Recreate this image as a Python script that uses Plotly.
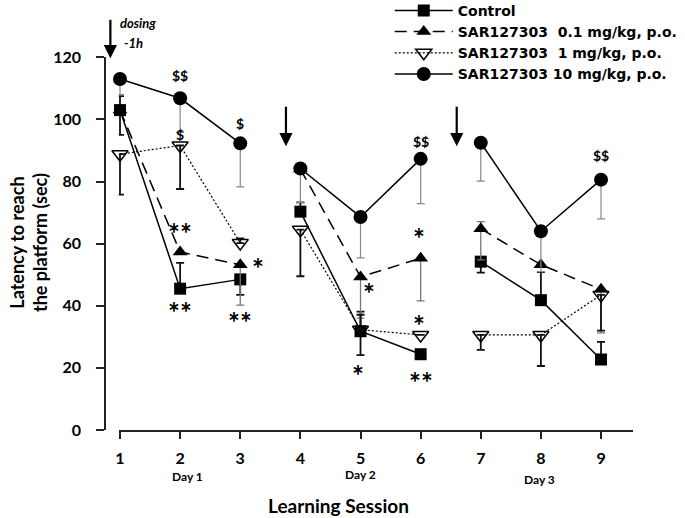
import plotly.graph_objects as go

sessions = [1, 2, 3, 4, 5, 6, 7, 8, 9]
tick_labels = ["1", "2", "3", "4", "5", "6", "7", "8", "9"]
day_slices = [(0, 3), (3, 6), (6, 9)]

series_names = ["Control", "SAR127303  0.1 mg/kg, p.o.", "SAR127303  1 mg/kg, p.o.", "SAR127303 10 mg/kg, p.o."]

control = [103.0, 45.5, 48.5, 70.3, 31.8, 24.4, 54.2, 41.8, 22.7]
control_plus = [4.5, 8.3, 0, 3, 6.3, 0, 0, 9, 5.7]
control_minus = [8, 0, 5, 0, 7.7, 0, 3.5, 0, 0]

dose01 = [103.0, 57.3, 53.2, 84.0, 49.3, 55.3, 64.8, 53.2, 45.3]
dose01_plus = [0, 0, 0, 0, 0, 0, 2.3, 0, 0]
dose01_minus = [0, 0, 13, 0, 13.3, 13.7, 10, 0, 14]

dose1 = [88.8, 91.6, 60.2, 64.5, 32.3, 30.6, 30.6, 30.6, 43.5]
dose1_plus = [0, 0, 1.5, 0, 4.8, 0, 0, 0, 0]
dose1_minus = [13, 14, 0, 15, 0, 0, 4.8, 10, 11.5]

dose10 = [113.0, 106.8, 92.3, 84.2, 68.6, 87.3, 92.5, 64.0, 80.6]
dose10_plus = [0, 0, 0, 0, 0, 0, 0, 0, 0]
dose10_minus = [5, 11, 14, 11, 13.2, 14.4, 12.4, 13, 12.6]

# significance labels (session x, value y, text)
sig_x = [2.0, 3.0, 2.0, 6.0, 9.0, 2.0, 2.0, 3.3, 3.0, 5.14, 4.96, 5.98, 5.98, 6.0]
sig_y = [114.2, 98.7, 95.2, 93.0, 88.5, 65.0, 39.6, 53.7, 36.4, 45.8, 19.3, 63.3, 35.4, 17.0]
sig_text = ["$$", "$", "$", "$$", "$$", "**", "**", "*", "**", "*", "*", "*", "*", "**"]

day_labels = ["Day 1", "Day 2", "Day 3"]
day_x = [2.12, 5.0, 7.98]
day_y = [-15.1, -14.2, -15.8]

# dosing arrows (x, tail y, tip y)
arrow_x = [0.84, 3.76, 6.60]
arrow_tail = [132.6, 104.6, 104.6]
arrow_tip = [119.7, 91.4, 91.4]

FONT = "Lato"
W, H = 685, 518
XDOM = [118.8 / W, 632.9 / W]
YDOM = [1 - 430 / H, 1 - 57.3 / H]
XR = [0.98, 9.53]
YR = [0, 120]
PX_PER_Y = (YDOM[1] - YDOM[0]) * H / (YR[1] - YR[0])


def px(x):
    return XDOM[0] + (x - XR[0]) / (XR[1] - XR[0]) * (XDOM[1] - XDOM[0])


def py(y):
    return YDOM[0] + (y - YR[0]) / (YR[1] - YR[0]) * (YDOM[1] - YDOM[0])


fig = go.Figure()


def add_series(name, y, plus, minus, symbol, size, dash, width, ecolor, ethick, mline=0):
    for i, (a, b) in enumerate(day_slices):
        fig.add_trace(go.Scatter(
            x=sessions[a:b], y=y[a:b], name=name, legendgroup=name, showlegend=(i == 0),
            mode="lines+markers",
            line=dict(color="black", width=width, dash=dash),
            marker=dict(symbol=symbol, size=size, color="black",
                        line=dict(color="black", width=mline)),
            error_y=dict(type="data", symmetric=False, array=plus[a:b], arrayminus=minus[a:b],
                         color=ecolor, thickness=ethick, width=4),
            cliponaxis=False,
        ))


add_series(series_names[0], control, control_plus, control_minus, "square", 12, "solid", 1.5, "#111", 1.8)
add_series(series_names[1], dose01, dose01_plus, dose01_minus, "triangle-up", 13, "12px,7px", 1.5, "#777", 1.3)
add_series(series_names[2], dose1, dose1_plus, dose1_minus, "triangle-down-open", 14, "2px,2px", 1.2, "#111", 1.8, mline=1.5)
add_series(series_names[3], dose10, dose10_plus, dose10_minus, "circle", 14, "solid", 1.5, "#888", 1.2)


def note(x, y, text, size, xanchor="center", yshift=0, style="normal"):
    return dict(x=x, y=y, xref="paper", yref="paper", text=text, showarrow=False,
                xanchor=xanchor, yanchor="middle", yshift=yshift,
                font=dict(family=FONT, size=size, color="black", weight="bold", style=style))


annotations = []
for x, y, t in zip(sig_x, sig_y, sig_text):
    if "*" in t:
        annotations.append(note(px(x), py(y), t, 28, yshift=-5))
    else:
        annotations.append(note(px(x), py(y), t, 14))

for x, y, t in zip(day_x, day_y, day_labels):
    annotations.append(note(px(x), py(y), t, 12))

for x, yt, yh in zip(arrow_x, arrow_tail, arrow_tip):
    annotations.append(dict(x=px(x), y=py(yh), ax=0, ay=-(yt - yh) * PX_PER_Y, xref="paper", yref="paper",
                            axref="pixel", ayref="pixel",
                            text="", showarrow=True, arrowhead=2, arrowsize=1.2, arrowwidth=2.2,
                            arrowcolor="black"))

annotations.append(note(px(0.967), py(131.0), "dosing", 13, xanchor="left", style="italic"))
annotations.append(note(px(1.033), py(124.5), "-1h", 13, xanchor="left", style="italic"))

annotations.append(note(338 / W, 1 - 505 / H, "Learning Session", 19))
annotations.append(dict(x=28 / W, y=1 - 243 / H, xref="paper", yref="paper", xanchor="center", yanchor="middle",
                        text="Latency to reach<br>the platform (sec)", textangle=-90, showarrow=False,
                        font=dict(family=FONT, size=18, color="black", weight="bold")))

fig.update_layout(
    width=W, height=H,
    margin=dict(l=0, r=0, t=0, b=0, autoexpand=False),
    paper_bgcolor="white", plot_bgcolor="white",
    font=dict(family=FONT, color="black"),
    showlegend=True,
    legend=dict(x=0.569, y=1.01, xanchor="left", yanchor="top", bgcolor="rgba(0,0,0,0)",
                itemwidth=58, font=dict(family="DejaVu Sans", size=14, color="black", weight="bold"),
                tracegroupgap=0),
    annotations=annotations,
)

fig.update_xaxes(
    domain=XDOM, range=XR, anchor="y", automargin=False,
    tickmode="array", tickvals=sessions, ticktext=tick_labels,
    ticks="outside", ticklen=7, tickwidth=1.5, tickcolor="#222",
    showline=True, linecolor="#222", linewidth=1.5,
    showgrid=False, zeroline=False, ticklabelstandoff=6,
    tickfont=dict(family=FONT, size=16, color="black", weight="bold"),
)
fig.update_yaxes(
    domain=YDOM, range=YR, dtick=20, anchor="free", position=105 / W, automargin=False,
    ticks="outside", ticklen=8, tickwidth=1.5, tickcolor="#222",
    showline=True, linecolor="#222", linewidth=1.5,
    showgrid=False, zeroline=False, ticklabelstandoff=12,
    tickfont=dict(family=FONT, size=16, color="black", weight="bold"),
)

fig.write_html("out.html", config={"displayModeBar": False},
               post_script="document.body.style.margin='0';")
